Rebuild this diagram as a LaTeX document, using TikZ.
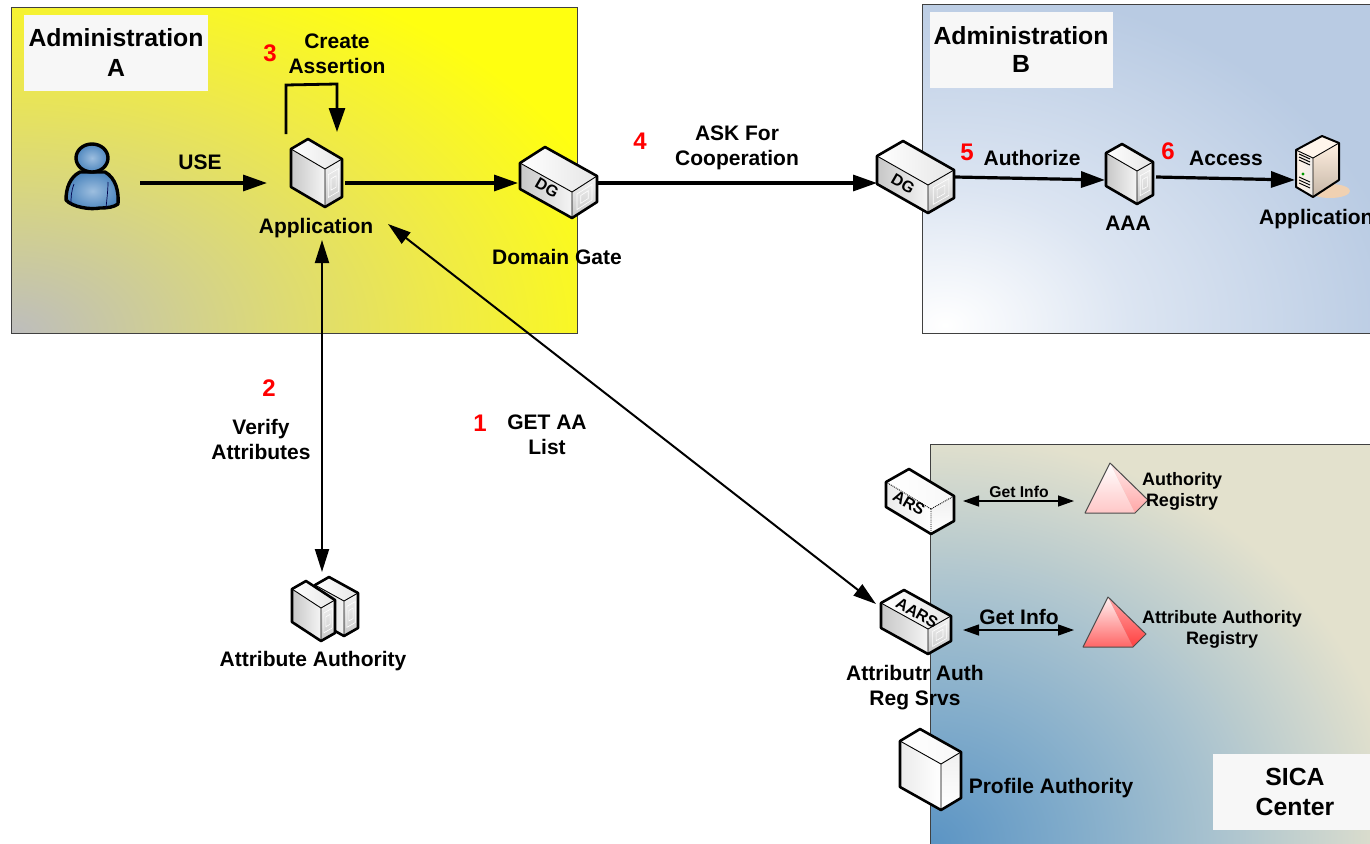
\documentclass[tikz,border=0pt]{standalone}
\usepackage{fontspec}
\setmainfont{Liberation Sans}
\usepackage{xcolor}
\usetikzlibrary{arrows.meta}

\definecolor{yellowtop}{HTML}{FFFF10}
\definecolor{greycorner}{HTML}{BDBDBD}
\definecolor{olivemid}{HTML}{D8D680}
\definecolor{yellowmid}{HTML}{EFEA48}
\definecolor{bluepale}{HTML}{B9CBE3}
\definecolor{bluemid}{HTML}{DCE5F2}
\definecolor{beigepale}{HTML}{E3E1CD}
\definecolor{bluedeep}{HTML}{5B94C4}
\definecolor{bluesoft}{HTML}{83ADCB}
\definecolor{bluegrey}{HTML}{A8C2CF}
\definecolor{usermid}{HTML}{9DBEDF}
\definecolor{userout}{HTML}{4D86BE}
\pgfdeclareradialshading{panelA}{\pgfpoint{0bp}{0bp}}{color(0bp)=(greycorner);color(9bp)=(olivemid);color(17bp)=(yellowmid);color(25bp)=(yellowtop);color(50bp)=(yellowtop)}
\pgfdeclareradialshading{panelB}{\pgfpoint{0bp}{0bp}}{color(0bp)=(white);color(10bp)=(bluemid);color(25bp)=(bluepale);color(50bp)=(bluepale)}
\pgfdeclareradialshading{panelS}{\pgfpoint{0bp}{0bp}}{color(0bp)=(bluedeep);color(8bp)=(bluesoft);color(15bp)=(bluegrey);color(25bp)=(beigepale);color(50bp)=(beigepale)}

\tikzset{
	panel/.style={draw=black!75, line width=1pt},
	labelbox/.style={fill=white!97!black},
	lbl/.style={font=\fontsize{21}{25}\selectfont\bfseries, align=center, inner sep=0pt},
	lblbig/.style={font=\fontsize{24.8}{30}\selectfont\bfseries, align=center, inner sep=0pt},
	lblsmall/.style={font=\fontsize{18}{21}\selectfont\bfseries, align=center, inner sep=0pt},
	num/.style={font=\fontsize{24}{24}\selectfont\bfseries, text=red, inner sep=0pt},
	boxtag/.style={font=\fontsize{16}{16}\selectfont\bfseries, inner sep=0pt, rotate=-30},
	flow/.style={-{Triangle[length=24pt,width=16pt]}, line width=3.2pt},
	link/.style={{Triangle[length=23pt,width=14pt]}-{Triangle[length=23pt,width=14pt]}, line width=2pt},
	info/.style={{Triangle[length=16pt,width=11pt]}-{Triangle[length=16pt,width=11pt]}, line width=1.3pt},
	boxedge/.style={line width=2.6pt, line join=round},
	boxinner/.style={line width=.9pt},
	boxring/.style={draw=white, line width=.6pt},
	boxfront/.style={left color=black!22, right color=black!4},
	boxside/.style={top color=black!4, bottom color=black!22},
	boxtop/.style={left color=white, right color=black!10},
	boxpale/.style={
		boxring/.style={},
		boxfront/.style={left color=black!8, right color=white},
		boxside/.style={top color=black!6, bottom color=white},
		boxtop/.style={left color=white, right color=black!3}},
	pics/isobox/.style n args={5}{code={
		\path[boxfront] (0,0) -- ++(#3,#4) -- ++(0,#5) -- ++(-#3,-#4) -- cycle;
		\path[boxside] (#3,#4) -- ++(#1,#2) -- ++(0,#5) -- ++(-#1,-#2) -- cycle;
		\path[boxtop] (0,0) -- ++(#1,#2) -- ++(#3,#4) -- ++(-#1,-#2) -- cycle;
		\foreach \s in {.2,.35}
		{
			\path[boxring] (#3+\s*#1,#4+\s*#2+\s*#5) -- ++({(1-2*\s)*#1},{(1-2*\s)*#2}) -- ++(0,{(1-2*\s)*#5}) -- ++({-(1-2*\s)*#1},{-(1-2*\s)*#2}) -- cycle;
		}
		\draw[boxinner] (0,0) -- (#3,#4) -- ++(#1,#2) (#3,#4) -- ++(0,#5);
		\draw[boxedge] (0,0) -- ++(#1,#2) -- ++(#3,#4) -- ++(0,#5) -- ++(-#1,-#2) -- ++(-#3,-#4) -- cycle;
	}},
	pics/pyramid/.style n args={4}{code={
		\path[top color=#1, bottom color=#2] (0,0) -- (25,-50) -- (50,0) -- cycle;
		\path[top color=#3, bottom color=#4] (25,-50) -- (63,-13) -- (50,0) -- cycle;
		\draw[line width=1pt, black!70, line join=round] (0,0) -- (25,-50) -- (63,-13) -- (50,0) -- cycle;
	}}
}

\begin{document}
\begin{tikzpicture}[x=1pt,y=-1pt]
	\useasboundingbox (0,0) rectangle (1370,843);
	\fill[white] (0,0) rectangle (1370,843);

	% the three domains
	\begin{scope}
		\clip (11,8) rectangle (577,333);
		\fill[yellowtop] (11,8) rectangle (577,333);
		\shade[shading=panelA] (11,333) ellipse (640 and 400);
	\end{scope}
	\draw[panel] (11,8) rectangle (577,333);
	\begin{scope}
		\clip (922,5) rectangle (1372,333);
		\fill[bluepale] (922,5) rectangle (1372,333);
		\shade[shading=panelB] (945,325) ellipse (460 and 340);
	\end{scope}
	\draw[panel] (922,5) rectangle (1372,333);
	\begin{scope}
		\clip (930,444) rectangle (1372,845);
		\fill[beigepale] (930,444) rectangle (1372,845);
		\shade[shading=panelS] (930,843) ellipse (470 and 410);
	\end{scope}
	\draw[panel] (930,444) rectangle (1372,845);

	\fill[labelbox] (24,15) rectangle (208,91);
	\fill[labelbox] (930,12) rectangle (1113,88);
	\fill[labelbox] (1213,754) rectangle (1372,830);

	% ends of the connectors
	\coordinate (useout) at (140,183);
	\coordinate (appin) at (267,183);
	\coordinate (appout) at (345,183);
	\coordinate (gatein) at (518,183);
	\coordinate (gateout) at (597,183);
	\coordinate (gatebin) at (877,183);
	\coordinate (gatebout) at (955,177);
	\coordinate (aaain) at (1105,180);
	\coordinate (aaaout) at (1156,177);
	\coordinate (srvin) at (1295,180);
	\coordinate (selfstart) at (286,134);
	\coordinate (selfa) at (286,85);
	\coordinate (selfb) at (337,84);
	\coordinate (selfend) at (337,132);
	\coordinate (verifytop) at (322,240);
	\coordinate (verifylow) at (322,572);
	\coordinate (listtop) at (388,224);
	\coordinate (listlow) at (876,604);
	\coordinate (arsout) at (963,501);
	\coordinate (regin) at (1074,501);
	\coordinate (aarsout) at (963,630);
	\coordinate (aaregin) at (1074,630);

	\draw[flow] (useout) -- (appin);
	\draw[flow] (appout) -- (gatein);
	\draw[flow] (gateout) -- (gatebin);
	\draw[flow] (gatebout) -- (aaain);
	\draw[flow] (aaaout) -- (srvin);
	\draw[flow, line width=2.8pt] (selfstart) -- (selfa) -- (selfb) -- (selfend);
	\draw[link] (verifytop) -- (verifylow);
	\draw[link] (listtop) -- (listlow);
	\draw[info] (arsout) -- (regin);
	\draw[info] (aarsout) -- (aaregin);

	% user
	\draw[boxedge, line width=3.4pt, inner color=usermid, outer color=userout] (80,172) .. controls (70,177) and (66,188) .. (66,200) .. controls (72,207) and (90,210) .. (100,208) .. controls (108,208) and (114,207) .. (118,204) .. controls (119,192) and (116,178) .. (105,172) -- cycle;
	\draw[line width=.7pt, blue!30!black] (74,184) .. controls (71,192) and (71,198) .. (71,204) (108,182) .. controls (108,190) and (107,198) .. (106,208);
	\draw[boxedge, line width=3.4pt, inner color=usermid, outer color=userout] (92,158) ellipse (16 and 14);

	% boxes
	\pic (app) at (291,149) {isobox={17}{-10}{34}{20}{38}};
	\pic (gatea) at (520,163) {isobox={25}{-16}{52}{29}{26}};
	\pic (gateb) at (877,156) {isobox={26}{-15}{51}{29}{28}};
	\pic (aaa) at (1106,153) {isobox={16}{-9}{31}{18}{33}};
	\pic (aaback) at (315,585) {isobox={14}{-8}{29}{16}{35}};
	\pic (aafront) at (292,589) {isobox={14}{-8}{29}{19}{33}};
	\pic[boxpale, boxinner/.style={line width=.9pt, densely dotted}] (ars) at (886,482) {isobox={23}{-13}{45}{27}{25}};
	\pic (aars) at (881,603) {isobox={23}{-13}{47}{26}{25}};
	\pic[boxpale] (prof) at (900,741) {isobox={20}{-12}{41}{23}{46}};

	% server of domain B
	\fill[black!20!orange!30!white] (1330,191) ellipse (20 and 7);
	\path[left color=orange!10!white, right color=orange!25!black!8!white] (1296,150) -- (1313,158) -- (1313,197) -- (1296,187) -- cycle;
	\path[top color=orange!12!white, bottom color=orange!35!black!35!white] (1313,158) -- (1339,143) -- (1339,180) -- (1313,197) -- cycle;
	\fill[orange!8!white] (1296,150) -- (1322,136) -- (1339,143) -- (1313,158) -- cycle;
	\foreach \y in {154,157,160}
	{
		\draw[line width=1pt] (1299,\y) -- (1310,\y+5);
	}
	\foreach \y in {180,183,186}
	{
		\draw[line width=.9pt] (1299,\y-3) -- (1310,\y+2);
	}
	\fill[black!40!green] (1303,174) circle (1.6);
	\draw[boxinner] (1296,150) -- (1313,158) -- (1339,143) (1313,158) -- (1313,197);
	\draw[boxedge, line width=2pt] (1296,150) -- (1322,136) -- (1339,143) -- (1339,180) -- (1313,197) -- (1296,187) -- cycle;

	% registries
	\pic (authreg) at (1085,513) {pyramid={white}{red!22!white}{red!8!white}{red!35!white}};
	\pic (attreg) at (1083,647) {pyramid={red!5!white}{red!60!white}{red!35!white}{red!75!white}};

	% texts
	\node[boxtag] (tagdga) at (547,188) {DG};
	\node[boxtag] (tagdgb) at (903,184) {DG};
	\node[boxtag] (tagars) at (909,503) {ARS};
	\node[boxtag] (tagaars) at (917,613) {AARS};
	\node[lblbig] (adma) at (116,53) {Administration\\A};
	\node[lblbig, font=\fontsize{24.8}{28}\selectfont\bfseries] (admb) at (1021,50) {Administration\\B};
	\node[lblbig] (sica) at (1295,792) {SICA\\Center};
	\node[num] (numthree) at (270,53) {3};
	\node[lbl] (create) at (337,54) {Create\\Assertion};
	\node[lbl] (use) at (200,162) {USE};
	\node[lbl] (appname) at (316,228) {Application};
	\node[lbl] (gatename) at (557,257) {Domain Gate};
	\node[num] (numfour) at (640,141) {4};
	\node[lbl] (ask) at (737,148) {ASK For\\Cooperation};
	\node[num] (numfive) at (967,152) {5};
	\node[lbl] (authorize) at (1032,158) {Authorize};
	\node[lbl] (aaaname) at (1128,223) {AAA};
	\node[num] (numsix) at (1168,151) {6};
	\node[lbl] (access) at (1226,158) {Access};
	\node[lbl, anchor=west] (srvname) at (1259,219) {Application};
	\node[num] (numtwo) at (269,388) {2};
	\node[lbl] (verify) at (261,439) {Verify\\Attributes};
	\node[num] (numone) at (480,423) {1};
	\node[lbl] (getaa) at (547,435) {GET AA\\List};
	\node[lbl] (aaname) at (313,661) {Attribute Authority};
	\node[lblsmall, font=\fontsize{15.7}{18}\selectfont\bfseries] (infoa) at (1019,492) {Get Info};
	\node[lblsmall] (authname) at (1182,491) {Authority\\Registry};
	\node[lbl] (infob) at (1019,617) {Get Info};
	\node[lblsmall] (attname) at (1222,629) {Attribute Authority\\Registry};
	\node[lbl] (aarsname) at (915,688) {Attributr Auth\\Reg Srvs};
	\node[lbl] (profname) at (1051,788) {Profile Authority};
\end{tikzpicture}
\end{document}
